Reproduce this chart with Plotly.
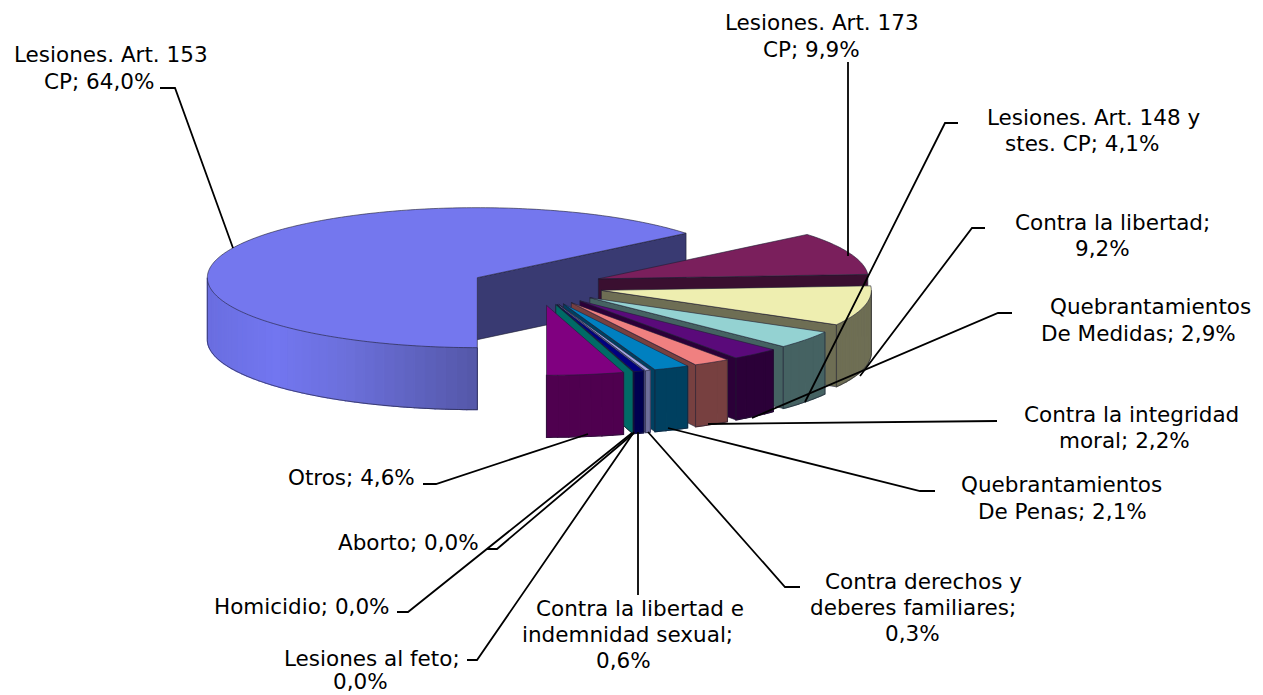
import math
import plotly.graph_objects as go

# ---- data ----
categories = ["Lesiones. Art. 153 CP", "Lesiones. Art. 173 CP", "Contra la libertad",
              "Lesiones. Art. 148 y stes. CP", "Quebrantamientos De Medidas",
              "Contra la integridad moral", "Quebrantamientos De Penas",
              "Contra derechos y deberes familiares", "Contra la libertad e indemnidad sexual",
              "Lesiones al feto", "Homicidio", "Aborto", "Otros"]
values = [64.0, 9.9, 9.2, 4.1, 2.9, 2.2, 2.1, 0.3, 0.6, 0.0, 0.0, 0.0, 4.6]

top_colors = ["#7477ee", "#7a1f5c", "#eeeeb0", "#94d2d2", "#5a0a7a", "#f08080", "#0080c0",
              "#a5a5e0", "#000080", "#008080", "#008080", "#008080", "#800080"]
wall_colors = ["#393a72", "#3a0f30", "#6e6e54", "#456262", "#2b0038", "#774040", "#004060",
               "#6f6f9c", "#000050", "#006a66", "#006a66", "#006a66", "#4f004f"]

# text lines: (text, centre x, centre y)
label_lines = [
    ("Lesiones. Art. 153", 110.5, 54), ("CP; 64,0%", 98.5, 81),
    ("Lesiones. Art. 173", 821.5, 22), ("CP; 9,9%", 811, 49),
    ("Lesiones. Art. 148 y", 1093.5, 117), ("stes. CP; 4,1%", 1081.5, 143),
    ("Contra la libertad;", 1112.5, 222), ("9,2%", 1102, 248),
    ("Quebrantamientos", 1150.5, 306), ("De Medidas; 2,9%", 1138.5, 333),
    ("Contra la integridad", 1131, 414), ("moral; 2,2%", 1124.5, 440),
    ("Quebrantamientos", 1061, 484), ("De Penas; 2,1%", 1062, 511),
    ("Contra derechos y", 923.5, 581), ("deberes familiares;", 912.5, 607), ("0,3%", 912.5, 633),
    ("Contra la libertad e", 640, 608), ("indemnidad sexual;", 627.5, 634), ("0,6%", 623.5, 660),
    ("Otros; 4,6%", 351, 477), ("Aborto; 0,0%", 408, 542), ("Homicidio; 0,0%", 301.5, 606),
    ("Lesiones al feto;", 371.5, 658), ("0,0%", 360.5, 681.5),
]

leader_lines = [
    [(160, 88), (175, 88), (233, 248)],
    [(848, 62), (848, 256)],
    [(958, 123), (945, 123), (805, 402)],
    [(985, 228), (972, 228), (860, 376)],
    [(1012, 313), (998, 313), (752, 418)],
    [(997, 421), (708, 424)],
    [(935, 491), (920, 491), (668, 428)],
    [(800, 587), (785, 587), (648, 432)],
    [(638, 595), (638, 432)],
    [(467, 660), (477, 660), (634, 432)],
    [(397, 612), (408, 612), (632, 433)],
    [(487, 549), (497, 549), (634, 433)],
    [(423, 484), (436, 484), (588, 434)],
]

# ---- projection constants ----
CX, CY = 537, 286
RX, RY = 270, 70
EX, EY = 66, 19.5
DEPTH = 62
START = 180.0
EDGE = "rgba(30,30,50,0.75)"


def rim(apex, angle, dy=0.0):
    t = math.radians(angle)
    return apex[0] + RX * math.sin(t), apex[1] - RY * math.cos(t) + dy


def arc(apex, a, b, dy=0.0):
    n = max(2, int(abs(b - a) / 1.0) + 2)
    return [rim(apex, a + (b - a) * k / (n - 1), dy) for k in range(n)]


def mix(stops, f):
    for (f0, c0), (f1, c1) in zip(stops, stops[1:]):
        if f <= f1:
            u = (f - f0) / (f1 - f0)
            rgb = [round(c0[j] + (c1[j] - c0[j]) * u) for j in range(3)]
            return "rgb(%d,%d,%d)" % tuple(rgb)
    return "rgb(%d,%d,%d)" % tuple(stops[-1][1])


fig = go.Figure()


def poly(pts, fill, line=EDGE, width=0.8):
    fig.add_trace(go.Scatter(
        x=[p[0] for p in pts] + [pts[0][0]], y=[p[1] for p in pts] + [pts[0][1]],
        mode="lines", fill="toself", fillcolor=fill,
        line=dict(color=line, width=width, simplify=False), hoverinfo="skip", showlegend=False))


big_wall_stops = [(0.0, (106, 110, 224)), (0.25, (114, 118, 240)), (0.5, (108, 112, 220)),
                  (1.0, (84, 87, 168))]

total = sum(values)
theta = START
for n_slice, v in enumerate(values):
    a = theta
    b = theta + v / total * 360.0
    if a >= 360.0:
        a -= 360.0
        b -= 360.0
    mid = math.radians((a + b) / 2)
    apex = (CX + EX * math.sin(mid), CY - EY * math.cos(mid))

    # radial wall at the slice's closing edge, when it faces the viewer
    if 0 <= b % 360 <= 180:
        r = rim(apex, b)
        poly([apex, r, (r[0], r[1] + DEPTH), (apex[0], apex[1] + DEPTH)], wall_colors[n_slice])

    # outer rim wall: only the front half (90..270) can be seen
    lo, hi = max(a, 90.0), min(b, 270.0)
    if hi > lo:
        segs = max(2, int((hi - lo) / 2.25))
        step = (hi - lo) / segs
        for s in range(segs):
            p, q = lo + s * step, lo + (s + 1) * step
            if n_slice == 0:
                xm = rim(apex, (p + q) / 2)[0]
                col = mix(big_wall_stops, max(0, min(1, (xm - (apex[0] - RX)) / RX)))
            else:
                col = wall_colors[n_slice]
            poly(arc(apex, p, q) + arc(apex, q, p, DEPTH), col, line=col, width=1.2)
        edge = [rim(apex, lo), rim(apex, lo, DEPTH)] + arc(apex, lo, hi, DEPTH)[1:] + [rim(apex, hi)]
        fig.add_trace(go.Scatter(x=[e[0] for e in edge], y=[e[1] for e in edge], mode="lines",
                                 line=dict(color=EDGE, width=0.8, simplify=False),
                                 hoverinfo="skip", showlegend=False))

    # top face
    if b > a:
        poly([apex] + arc(apex, a, b), top_colors[n_slice])
    theta = b

# leader lines
for seg in leader_lines:
    fig.add_trace(go.Scatter(x=[p[0] for p in seg], y=[p[1] for p in seg], mode="lines",
                             line=dict(color="black", width=1.8), hoverinfo="skip", showlegend=False))

for text, x, y in label_lines:
    fig.add_annotation(x=x, y=y, text=text, showarrow=False, xanchor="center", yanchor="middle",
                       xref="x", yref="y", borderpad=0,
                       font=dict(family="DejaVu Sans", size=21.5, color="black"))

fig.update_layout(width=1263, height=695, margin=dict(l=0, r=0, t=0, b=0),
                  paper_bgcolor="white", plot_bgcolor="white", showlegend=False,
                  xaxis=dict(range=[0, 1263], visible=False, fixedrange=True),
                  yaxis=dict(range=[695, 0], visible=False, fixedrange=True))

fig.write_html("out.html", config={"displayModeBar": False},
               post_script="document.body.style.margin='0';")
